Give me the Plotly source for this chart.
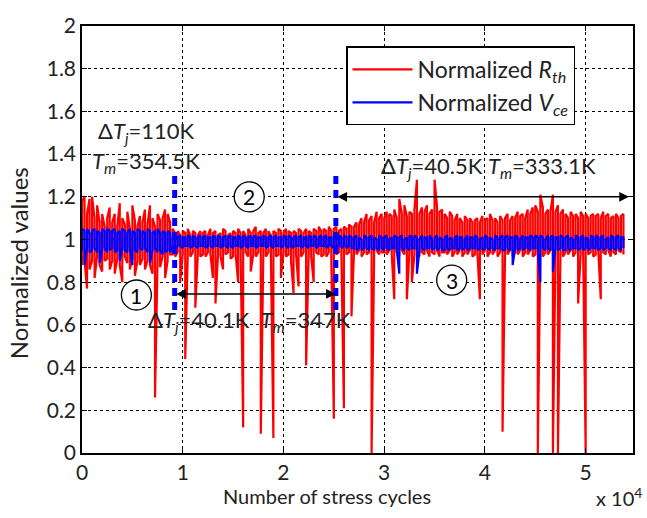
import plotly.graph_objects as go

# ---------------- data ----------------
# Each signal is given as per-bin maxima and minima (one bin = 250 stress cycles),
# one row = 12 bins = 3000 cycles.
bin_cycles = 250

rth_max = [
    1.18, 1.20, 1.12, 1.19, 1.20, 1.10, 1.16, 1.08, 1.12, 1.06, 1.10, 1.15,
    1.08, 1.12, 1.06, 1.17, 1.10, 1.07, 1.13, 1.05, 1.16, 1.09, 1.06, 1.11,
    1.08, 1.14, 1.07, 1.16, 1.10, 1.06, 1.12, 1.09, 1.10, 1.14, 1.12, 1.08,
    1.05, 1.03, 1.04, 1.02, 1.04, 1.03, 1.05, 1.02, 1.04, 1.03, 1.02, 1.04,
    1.03, 1.04, 1.02, 1.05, 1.03, 1.04, 1.02, 1.03, 1.05, 1.04, 1.02, 1.03,
    1.04, 1.03, 1.05, 1.03, 1.04, 1.02, 1.05, 1.03, 1.04, 1.06, 1.03, 1.04,
    1.03, 1.05, 1.04, 1.02, 1.04, 1.03, 1.05, 1.04, 1.03, 1.05, 1.04, 1.03,
    1.04, 1.03, 1.05, 1.04, 1.03, 1.05, 1.04, 1.03, 1.05, 1.04, 1.06, 1.04,
    1.05, 1.04, 1.06, 1.04, 1.05, 1.06, 1.04, 1.05, 1.06, 1.05, 1.07, 1.06,
    1.06, 1.08, 1.07, 1.10, 1.08, 1.12, 1.09, 1.11, 1.08, 1.13, 1.10, 1.12,
    1.10, 1.13, 1.12, 1.11, 1.14, 1.10, 1.19, 1.12, 1.16, 1.11, 1.13, 1.12,
    1.14, 1.28, 1.12, 1.15, 1.13, 1.16, 1.12, 1.14, 1.28, 1.15, 1.13, 1.14,
    1.12, 1.10, 1.13, 1.11, 1.09, 1.12, 1.10, 1.08, 1.11, 1.09, 1.10, 1.08,
    1.09, 1.10, 1.08, 1.11, 1.09, 1.10, 1.12, 1.09, 1.10, 1.08, 1.11, 1.09,
    1.10, 1.12, 1.09, 1.11, 1.10, 1.13, 1.11, 1.12, 1.10, 1.14, 1.12, 1.15,
    1.16, 1.13, 1.21, 1.15, 1.12, 1.14, 1.13, 1.21, 1.13, 1.16, 1.12, 1.14,
    1.12, 1.10, 1.13, 1.11, 1.12, 1.10, 1.13, 1.11, 1.12, 1.10, 1.11, 1.12,
    1.11, 1.12, 1.10, 1.13, 1.11, 1.12, 1.10, 1.11, 1.12, 1.10, 1.11, 1.12,
]
rth_min = [
    0.88, 0.90, 0.77, 0.86, 0.90, 0.82, 0.92, 0.88, 0.85, 0.90, 0.91, 0.86,
    0.90, 0.84, 0.91, 0.88, 0.80, 0.92, 0.89, 0.86, 0.91, 0.83, 0.90, 0.88,
    0.91, 0.86, 0.90, 0.88, 0.84, 0.26, 0.90, 0.87, 0.92, 0.82, 0.90, 0.93,
    0.93, 0.92, 0.94, 0.80, 0.93, 0.44, 0.93, 0.92, 0.94, 0.68, 0.93, 0.92,
    0.93, 0.92, 0.94, 0.93, 0.82, 0.70, 0.93, 0.92, 0.86, 0.93, 0.94, 0.91,
    0.92, 0.93, 0.80, 0.93, 0.12, 0.94, 0.92, 0.85, 0.93, 0.92, 0.94, 0.09,
    0.93, 0.92, 0.94, 0.93, 0.07, 0.92, 0.93, 0.82, 0.94, 0.92, 0.93, 0.90,
    0.75, 0.93, 0.78, 0.92, 0.94, 0.41, 0.93, 0.92, 0.80, 0.94, 0.93, 0.92,
    0.93, 0.92, 0.94, 0.90, 0.16, 0.93, 0.94, 0.92, 0.21, 0.93, 0.94, 0.64,
    0.94, 0.93, 0.95, 0.92, 0.94, 0.93, 0.94, 0.00, 0.92, 0.95, 0.93, 0.94,
    0.94, 0.93, 0.95, 0.93, 0.72, 0.94, 0.92, 0.95, 0.93, 0.72, 0.94, 0.80,
    0.93, 0.95, 0.92, 0.94, 0.93, 0.95, 0.92, 0.94, 0.93, 0.95, 0.92, 0.94,
    0.94, 0.93, 0.95, 0.92, 0.94, 0.93, 0.95, 0.92, 0.94, 0.93, 0.95, 0.92,
    0.93, 0.94, 0.72, 0.93, 0.95, 0.92, 0.94, 0.93, 0.95, 0.92, 0.94, 0.10,
    0.94, 0.93, 0.95, 0.92, 0.94, 0.93, 0.95, 0.92, 0.94, 0.93, 0.95, 0.92,
    0.93, 0.00, 0.95, 0.92, 0.94, 0.93, 0.95, 0.00, 0.93, 0.00, 0.94, 0.92,
    0.94, 0.93, 0.95, 0.92, 0.94, 0.70, 0.93, 0.95, 0.00, 0.93, 0.94, 0.92,
    0.93, 0.95, 0.72, 0.94, 0.93, 0.95, 0.92, 0.94, 0.93, 0.95, 0.94, 0.93,
]

vce_max = [
    1.05, 1.04, 1.05, 1.03, 1.04, 1.05, 1.04, 1.03, 1.05, 1.04, 1.05, 1.04,
    1.04, 1.05, 1.03, 1.04, 1.05, 1.04, 1.03, 1.05, 1.04, 1.03, 1.05, 1.04,
    1.04, 1.03, 1.05, 1.04, 1.03, 1.04, 1.05, 1.03, 1.04, 1.03, 1.04, 1.03,
    1.01, 1.02, 1.01, 1.02, 1.01, 1.01, 1.02, 1.01, 1.02, 1.01, 1.01, 1.02,
    1.01, 1.02, 1.01, 1.01, 1.02, 1.01, 1.02, 1.01, 1.01, 1.02, 1.01, 1.02,
    1.01, 1.01, 1.02, 1.01, 1.02, 1.01, 1.01, 1.02, 1.01, 1.02, 1.01, 1.01,
    1.02, 1.01, 1.01, 1.02, 1.01, 1.02, 1.01, 1.01, 1.02, 1.01, 1.02, 1.01,
    1.01, 1.02, 1.01, 1.02, 1.01, 1.01, 1.02, 1.01, 1.02, 1.01, 1.01, 1.02,
    1.01, 1.02, 1.01, 1.01, 1.02, 1.01, 1.02, 1.01, 1.02, 1.01, 1.02, 1.01,
    1.01, 1.02, 1.01, 1.00, 1.02, 1.01, 1.01, 1.02, 1.01, 1.00, 1.02, 1.01,
    1.01, 1.02, 1.00, 1.01, 1.02, 1.01, 1.01, 1.02, 1.00, 1.01, 1.02, 1.01,
    1.02, 1.01, 1.00, 1.02, 1.01, 1.01, 1.02, 1.00, 1.01, 1.02, 1.01, 1.00,
    1.01, 1.02, 1.01, 1.00, 1.01, 1.02, 1.01, 1.01, 1.00, 1.02, 1.01, 1.01,
    1.02, 1.01, 1.00, 1.01, 1.02, 1.01, 1.01, 1.00, 1.02, 1.01, 1.01, 1.02,
    1.01, 1.02, 1.01, 1.01, 1.02, 1.01, 1.00, 1.02, 1.01, 1.01, 1.02, 1.01,
    1.02, 1.01, 1.02, 1.01, 1.00, 1.02, 1.01, 1.02, 1.01, 1.01, 1.02, 1.01,
    1.01, 1.02, 1.01, 1.00, 1.02, 1.01, 1.01, 1.02, 1.01, 1.00, 1.02, 1.01,
    1.02, 1.01, 1.01, 1.02, 1.00, 1.01, 1.02, 1.01, 1.01, 1.02, 1.01, 1.01,
]
vce_min = [
    0.95, 0.88, 0.96, 0.94, 0.95, 0.96, 0.94, 0.89, 0.95, 0.96, 0.94, 0.95,
    0.96, 0.94, 0.95, 0.90, 0.96, 0.95, 0.94, 0.96, 0.88, 0.95, 0.94, 0.96,
    0.95, 0.96, 0.94, 0.89, 0.95, 0.96, 0.94, 0.95, 0.93, 0.94, 0.95, 0.94,
    0.97, 0.96, 0.97, 0.97, 0.96, 0.97, 0.97, 0.96, 0.97, 0.97, 0.96, 0.97,
    0.97, 0.96, 0.97, 0.97, 0.96, 0.97, 0.97, 0.96, 0.97, 0.97, 0.96, 0.97,
    0.96, 0.97, 0.97, 0.96, 0.97, 0.97, 0.96, 0.97, 0.97, 0.96, 0.97, 0.97,
    0.97, 0.96, 0.97, 0.97, 0.96, 0.97, 0.97, 0.96, 0.97, 0.97, 0.96, 0.97,
    0.96, 0.97, 0.97, 0.96, 0.97, 0.97, 0.96, 0.97, 0.97, 0.96, 0.97, 0.97,
    0.97, 0.96, 0.97, 0.97, 0.96, 0.97, 0.97, 0.96, 0.97, 0.96, 0.97, 0.96,
    0.96, 0.95, 0.96, 0.95, 0.96, 0.96, 0.95, 0.96, 0.95, 0.96, 0.95, 0.96,
    0.95, 0.96, 0.95, 0.96, 0.96, 0.95, 0.84, 0.96, 0.95, 0.96, 0.95, 0.96,
    0.96, 0.84, 0.95, 0.96, 0.95, 0.96, 0.96, 0.95, 0.96, 0.95, 0.96, 0.95,
    0.95, 0.96, 0.95, 0.96, 0.96, 0.95, 0.96, 0.95, 0.96, 0.95, 0.96, 0.96,
    0.96, 0.95, 0.96, 0.95, 0.96, 0.96, 0.95, 0.96, 0.95, 0.96, 0.96, 0.95,
    0.95, 0.96, 0.95, 0.88, 0.96, 0.95, 0.96, 0.95, 0.96, 0.96, 0.95, 0.96,
    0.96, 0.95, 0.80, 0.96, 0.95, 0.96, 0.95, 0.85, 0.96, 0.95, 0.96, 0.95,
    0.95, 0.96, 0.95, 0.96, 0.96, 0.95, 0.96, 0.95, 0.96, 0.95, 0.96, 0.96,
    0.96, 0.95, 0.96, 0.95, 0.96, 0.96, 0.95, 0.96, 0.95, 0.96, 0.95, 0.96,
]

stage_bounds = [9200, 25200]          # blue dashed stage boundaries (cycles)
stage_marker_y = [0.67, 1.30]
arrow_end = 54300

x_tick_vals = [0, 10000, 20000, 30000, 40000, 50000]
x_tick_text = ["0", "1", "2", "3", "4", "5"]
y_tick_vals = [0, 0.2, 0.4, 0.6, 0.8, 1.0, 1.2, 1.4, 1.6, 1.8, 2.0]
y_tick_text = ["0", "0.2", "0.4", "0.6", "0.8", "1", "1.2", "1.4", "1.6", "1.8", "2"]


def envelope_trace(vmax, vmin):
    """Dense signal drawn from per-bin max/min (standard min-max decimation)."""
    xs, ys = [], []
    for i, (hi, lo) in enumerate(zip(vmax, vmin)):
        c = i * bin_cycles
        pair = (lo, hi) if i % 2 == 0 else (hi, lo)
        xs += [c, c]
        ys += list(pair)
    return xs, ys


FONT = "Lato"
fig = go.Figure()

rx, ry = envelope_trace(rth_max, rth_min)
bx, by = envelope_trace(vce_max, vce_min)
fig.add_trace(go.Scatter(x=rx, y=ry, mode="lines",
                         line=dict(color="#ff0000", width=2.2),
                         name="Normalized <i>R<sub>th</sub></i>"))
fig.add_trace(go.Scatter(x=bx, y=by, mode="lines",
                         line=dict(color="#0000ff", width=2.2),
                         name="Normalized <i>V<sub>ce</sub></i>"))

for b in stage_bounds:
    fig.add_shape(type="line", xref="x", yref="y", x0=b, x1=b,
                  y0=stage_marker_y[0], y1=stage_marker_y[1],
                  line=dict(color="#0000ff", width=5, dash="8px,6px"))


def double_arrow(x0, x1, y):
    fig.add_annotation(x=x1, y=y, ax=x0, ay=y, xref="x", yref="y",
                       axref="x", ayref="y", text="", showarrow=True,
                       arrowhead=2, startarrowhead=2, arrowside="end+start",
                       arrowsize=1.3, startarrowsize=1.3,
                       arrowwidth=1.5, arrowcolor="black")


double_arrow(stage_bounds[0], stage_bounds[1], 0.745)
double_arrow(stage_bounds[1], arrow_end, 1.20)

stage_labels = [("1", 5400, 0.74), ("2", 16600, 1.20), ("3", 36700, 0.81)]
for t, cx, cy in stage_labels:
    fig.add_shape(type="circle", xref="x", yref="y", xsizemode="pixel",
                  ysizemode="pixel", xanchor=cx, yanchor=cy,
                  x0=-15, x1=15, y0=-15, y1=15,
                  line=dict(color="black", width=1.3), fillcolor="white")
    fig.add_annotation(x=cx, y=cy, xref="x", yref="y", text=t, showarrow=False,
                       font=dict(family=FONT, size=21, color="black"))

txt_font = dict(family=FONT, size=22, color="#222")
fig.add_annotation(x=1400, y=1.505, xref="x", yref="y", xanchor="left",
                   text="Δ<i>T<sub>j</sub></i>=110K", showarrow=False, font=txt_font)
fig.add_annotation(x=800, y=1.365, xref="x", yref="y", xanchor="left",
                   text="<i>T<sub>m</sub></i>=354.5K", showarrow=False, font=txt_font)
fig.add_annotation(x=29500, y=1.34, xref="x", yref="y", xanchor="left",
                   text="Δ<i>T<sub>j</sub></i>=40.5K <i>T<sub>m</sub></i>=333.1K",
                   showarrow=False, font=txt_font)
fig.add_annotation(x=6400, y=0.62, xref="x", yref="y", xanchor="left",
                   text="Δ<i>T<sub>j</sub></i>=40.1K  <i>T<sub>m</sub></i>=347K",
                   showarrow=False, font=txt_font)

# axis titles and exponent label (paper coordinates derived from pixel layout)
PL, PR, PT, PB = 82, 635, 15, 453
def px(x):
    return (x - PL) / (PR - PL)
def py(y):
    return (PB - y) / (PB - PT)

fig.add_annotation(x=px(328), y=py(497), xref="paper", yref="paper",
                   xanchor="center", yanchor="middle",
                   text="Number of stress cycles", showarrow=False,
                   font=dict(family=FONT, size=20, color="#222"))
fig.add_annotation(x=px(19), y=py(258), xref="paper", yref="paper",
                   xanchor="center", yanchor="middle",
                   text="Normalized values", textangle=-90, showarrow=False,
                   font=dict(family=FONT, size=24, color="#222"))
fig.add_annotation(x=px(596), y=py(498), xref="paper", yref="paper",
                   xanchor="left", yanchor="middle",
                   text="x 10<sup>4</sup>", showarrow=False,
                   font=dict(family=FONT, size=20, color="#222"))

fig.update_layout(
    width=647, height=518,
    margin=dict(l=PL, r=647 - PR, t=PT, b=518 - PB),
    paper_bgcolor="white", plot_bgcolor="white",
    font=dict(family=FONT, size=21, color="#222"),
    showlegend=True,
    legend=dict(x=px(347), y=py(36), xanchor="left", yanchor="top",
                bgcolor="white", bordercolor="black", borderwidth=1.5,
                font=dict(family=FONT, size=23, color="#222"),
                itemwidth=60, tracegroupgap=0),
    xaxis=dict(range=[0, 54700], tickvals=x_tick_vals, ticktext=x_tick_text,
               showgrid=True, gridcolor="black", griddash="dot", gridwidth=1.2,
               showline=True, linecolor="black", linewidth=1.5, mirror="ticks",
               ticks="inside", ticklen=5, tickcolor="black", zeroline=False),
    yaxis=dict(range=[0, 2], tickvals=y_tick_vals, ticktext=y_tick_text,
               showgrid=True, gridcolor="black", griddash="dot", gridwidth=1.2,
               showline=True, linecolor="black", linewidth=1.5, mirror="ticks",
               ticks="inside", ticklen=5, tickcolor="black", zeroline=False),
)

fig.write_html("out.html")
